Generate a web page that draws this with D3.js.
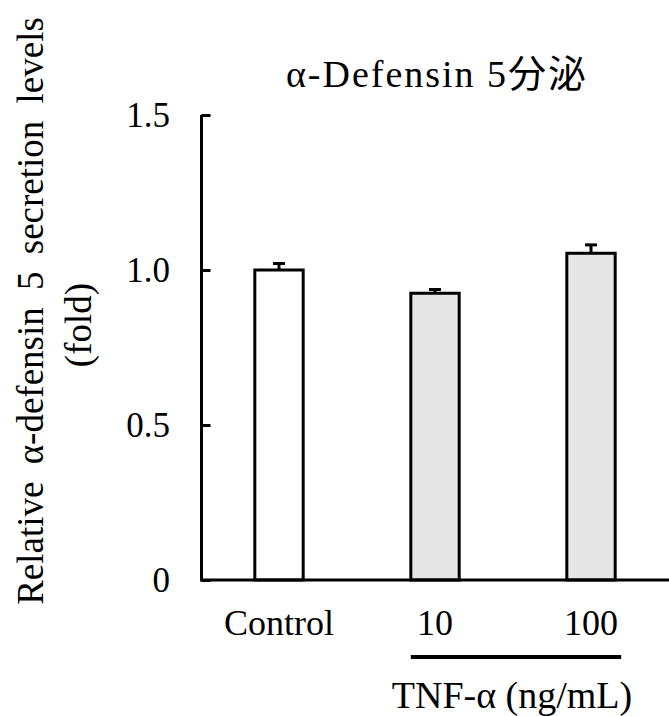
<!DOCTYPE html>
<html>
<head>
<meta charset="utf-8">
<script src="https://cdn.jsdelivr.net/npm/d3@7"></script>
<style>
body { margin: 0; background: #fff; }
text { font-family: "Liberation Serif", "Noto Sans CJK JP", serif; fill: #000; }
</style>
</head>
<body>
<div id="chart"></div>
<script>
var W = 669, H = 716;

var categories = ["Control", "10", "100"];
var values = [1.0, 0.925, 1.054];
var errors = [0.021, 0.012, 0.027];
var fills = ["#ffffff", "#e6e6e6", "#e6e6e6"];
var yTicks = [0, 0.5, 1.0, 1.5];
var yTickLabels = ["0", "0.5", "1.0", "1.5"];

var x = d3.scaleBand().domain(categories).range([201, 669]).paddingInner(0.69).paddingOuter(0.345);
var y = d3.scaleLinear().domain([0, 1.5]).range([580, 115]);

var svg = d3.select("#chart").append("svg")
	.attr("width", W)
	.attr("height", H);

// bars
svg.selectAll("rect.bar")
	.data(values)
	.enter()
	.append("rect")
	.attr("class", "bar")
	.attr("x", (d, i) => x(categories[i]))
	.attr("y", d => y(d))
	.attr("width", x.bandwidth())
	.attr("height", d => y(0) - y(d))
	.attr("fill", (d, i) => fills[i])
	.attr("stroke", "#000")
	.attr("stroke-width", 3);

// error bars
var cx = i => x(categories[i]) + x.bandwidth() / 2;
svg.selectAll("line.err")
	.data(values)
	.enter()
	.append("line")
	.attr("x1", (d, i) => cx(i))
	.attr("x2", (d, i) => cx(i))
	.attr("y1", d => y(d))
	.attr("y2", (d, i) => y(d + errors[i]))
	.attr("stroke", "#000")
	.attr("stroke-width", 3);
svg.selectAll("line.cap")
	.data(values)
	.enter()
	.append("line")
	.attr("x1", (d, i) => cx(i) - 6)
	.attr("x2", (d, i) => cx(i) + 6)
	.attr("y1", (d, i) => y(d + errors[i]))
	.attr("y2", (d, i) => y(d + errors[i]))
	.attr("stroke", "#000")
	.attr("stroke-width", 3);

// y axis
var yAxis = d3.axisRight(y)
	.tickValues(yTicks)
	.tickSize(9)
	.tickSizeOuter(0)
	.tickFormat("");
var gy = svg.append("g").attr("transform", "translate(201.5,0)").call(yAxis);
gy.selectAll("path, line").attr("stroke", "#000").attr("stroke-width", 3);
gy.select("path").attr("d", "M0," + y(1.5) + "V" + y(0));

svg.selectAll("text.ytick")
	.data(yTicks)
	.enter()
	.append("text")
	.attr("x", 170)
	.attr("y", d => y(d) + 12)
	.attr("text-anchor", "end")
	.style("font-size", "35px")
	.text((d, i) => yTickLabels[i]);

// x axis line
svg.append("line")
	.attr("x1", 200)
	.attr("x2", W)
	.attr("y1", y(0))
	.attr("y2", y(0))
	.attr("stroke", "#000")
	.attr("stroke-width", 3);

// category labels
svg.selectAll("text.cat")
	.data(categories)
	.enter()
	.append("text")
	.attr("x", d => x(d) + x.bandwidth() / 2)
	.attr("y", 635)
	.attr("text-anchor", "middle")
	.style("font-size", "36px")
	.text(d => d);

// TNF-α group line and label
svg.append("line")
	.attr("x1", x("10"))
	.attr("x2", x("100") + x.bandwidth() + 6)
	.attr("y1", 657)
	.attr("y2", 657)
	.attr("stroke", "#000")
	.attr("stroke-width", 4);
svg.append("text")
	.attr("x", 512)
	.attr("y", 708)
	.attr("text-anchor", "middle")
	.style("font-size", "38px")
	.text("TNF-α (ng/mL)");

// title
svg.append("text")
	.attr("x", 437)
	.attr("y", 87)
	.attr("text-anchor", "middle")
	.style("font-size", "38px")
	.style("letter-spacing", "2px")
	.text("α-Defensin 5分泌");

// y axis title
svg.append("text")
	.attr("transform", "translate(43,311) rotate(-90)")
	.attr("text-anchor", "middle")
	.style("font-size", "37px")
	.style("word-spacing", "8px")
	.text("Relative α-defensin 5 secretion levels");
svg.append("text")
	.attr("transform", "translate(91,325) rotate(-90)")
	.attr("text-anchor", "middle")
	.style("font-size", "37px")
	.text("(fold)");
</script>
</body>
</html>
